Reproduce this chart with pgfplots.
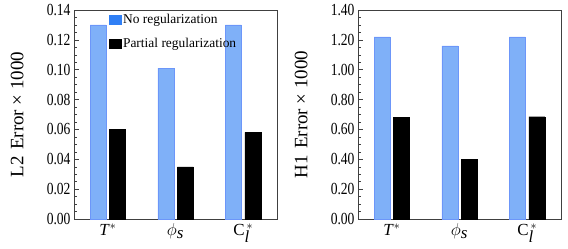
\documentclass[border=0pt]{standalone}
\usepackage{fontspec}
\setmainfont{Liberation Serif}
\newfontfamily\tickfont{Liberation Serif}[FakeStretch=0.8]
\usepackage{pgfplots}
\pgfplotsset{compat=1.18}
\definecolor{barblue}{HTML}{7FB0F8}
\definecolor{legblue}{HTML}{2F7FF5}
\definecolor{framegray}{HTML}{404040}
\pgfplotsset{
  mybars/.style={
    scale only axis, width=203bp, height=209bp,
    ybar=3.5bp, bar width=16bp,
    xmin=-0.5, xmax=2.5, ymin=0,
    xtick={0,1,2},
    xticklabels={\textit{T}$^{*}$, $\phi_{\textit{s}}$, C$_{\textit{l}}^{\,*}$},
    xtick style={draw=none},
    x tick label style={font=\fontsize{17}{19}\selectfont, yshift=-1bp},
    ytick pos=left, tick align=inside,
    minor y tick num=3,
    major tick length=5bp, minor tick length=3bp,
    every tick/.style={framegray, line width=0.5pt},
    axis line style={framegray, line width=0.7pt},
    y tick label style={font=\tickfont\fontsize{17}{19}\selectfont,
      /pgf/number format/.cd, fixed, fixed zerofill, precision=2, assume math mode=true},
    scaled y ticks=false,
    ylabel style={at={(axis description cs:-0.28,0.5)}, anchor=center, font=\fontsize{19}{21}\selectfont},
    legend style={draw=none, fill=none, font=\fontsize{13.5}{15}\selectfont,
      row sep=9bp, at={(axis description cs:0.155,1.0)}, anchor=north west,
      /tikz/every even column/.append style={column sep=2bp}},
    legend cell align=left,
  },
}
\begin{document}
\begin{tikzpicture}[x=1bp,y=1bp]
\useasboundingbox (0,0) rectangle (568,248);
\begin{axis}[mybars, at={(74bp,29bp)}, anchor=south west,
  ymax=0.14, ytick={0,0.02,...,0.141},
  ylabel={L2\,\,Error × 1000}]
\addplot[fill=barblue, draw=barblue!85!blue,
  legend image code/.code={\fill[legblue] (0bp,-4.5bp) rectangle (12bp,4.5bp);}]
  coordinates {(0,0.130) (1,0.101) (2,0.130)};
\addlegendentry{No regularization}
\addplot[fill=black, draw=black,
  legend image code/.code={\fill[black] (0bp,-4.5bp) rectangle (12bp,4.5bp);}]
  coordinates {(0,0.060) (1,0.035) (2,0.058)};
\addlegendentry{Partial regularization}
\end{axis}
\begin{axis}[mybars, at={(358bp,29bp)}, anchor=south west,
  ymax=1.40, ytick={0,0.2,...,1.41},
  ylabel={H1\,\,Error × 1000}]
\addplot[fill=barblue, draw=barblue!85!blue] coordinates {(0,1.22) (1,1.16) (2,1.22)};
\addplot[fill=black, draw=black] coordinates {(0,0.68) (1,0.40) (2,0.685)};
\end{axis}
\end{tikzpicture}
\end{document}
